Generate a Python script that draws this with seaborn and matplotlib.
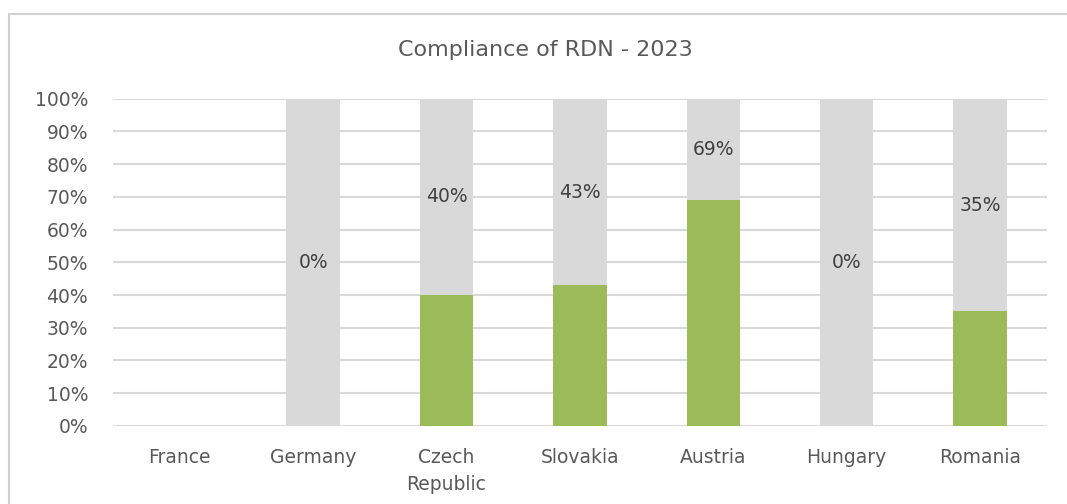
import numpy as np
import pandas as pd
import seaborn as sns
import matplotlib.pyplot as plt
from matplotlib.patches import Rectangle

# data
countries = ["France", "Germany", "Czech\nRepublic", "Slovakia", "Austria", "Hungary", "Romania"]
compliant = [np.nan, 0, 40, 43, 69, 0, 35]
non_compliant = [np.nan, 100, 60, 57, 31, 100, 65]
title = "Compliance of RDN - 2023"

green = "#9BBB59"
grey = "#D9D9D9"
text_col = "#595959"

df = pd.DataFrame({"country": countries, "compliant": compliant, "non_compliant": non_compliant})
df["total"] = df["compliant"] + df["non_compliant"]

sns.set_style("white")
plt.rcParams["font.family"] = ["DejaVu Sans"]

fig = plt.figure(figsize=(10.67, 5.04), dpi=100)
ax = fig.add_axes([0.106, 0.155, 0.875, 0.649])

# chart frame like the excel chart area
fig.patches.append(Rectangle((0.008, -0.05), 1.1, 1.023, transform=fig.transFigure,
                             fill=False, edgecolor="#D0D0D0", linewidth=1.5, zorder=0))

# grey remainder first (full height), then compliant share on top
sns.barplot(data=df, x="country", y="total", color=grey, width=0.4, saturation=1,
            ax=ax, zorder=2, linewidth=0)
sns.barplot(data=df, x="country", y="compliant", color=green, width=0.4, saturation=1,
            ax=ax, zorder=3, linewidth=0)

# labels sit in the middle of the grey part
for i, row in df.iterrows():
    if np.isnan(row["compliant"]):
        continue
    ypos = row["compliant"] + row["non_compliant"] / 2
    ax.text(i, ypos, f"{row['compliant']:.0f}%", ha="center", va="center",
            fontsize=13.5, color="#404040", zorder=4)

ax.set_ylim(0, 100)
ax.set_xlim(-0.5, len(countries) - 0.5)
ax.set_yticks(range(0, 101, 10))
ax.set_yticklabels([f"{v}%" for v in range(0, 101, 10)])
ax.yaxis.grid(True, color=grey, linewidth=1.5, zorder=0)
ax.set_axisbelow(True)
for s in ax.spines.values():
    s.set_visible(False)
ax.tick_params(axis="y", length=0, pad=18, labelsize=13.5, labelcolor=text_col)
ax.tick_params(axis="x", length=0, pad=16, labelsize=13.5, labelcolor=text_col)
for lbl in ax.get_xticklabels():
    lbl.set_linespacing(1.55)
ax.set_xlabel("")
ax.set_ylabel("")
fig.text(0.511, 0.9, title, ha="center", va="center", fontsize=16, color=text_col)

fig.savefig("out.png", dpi=100)
